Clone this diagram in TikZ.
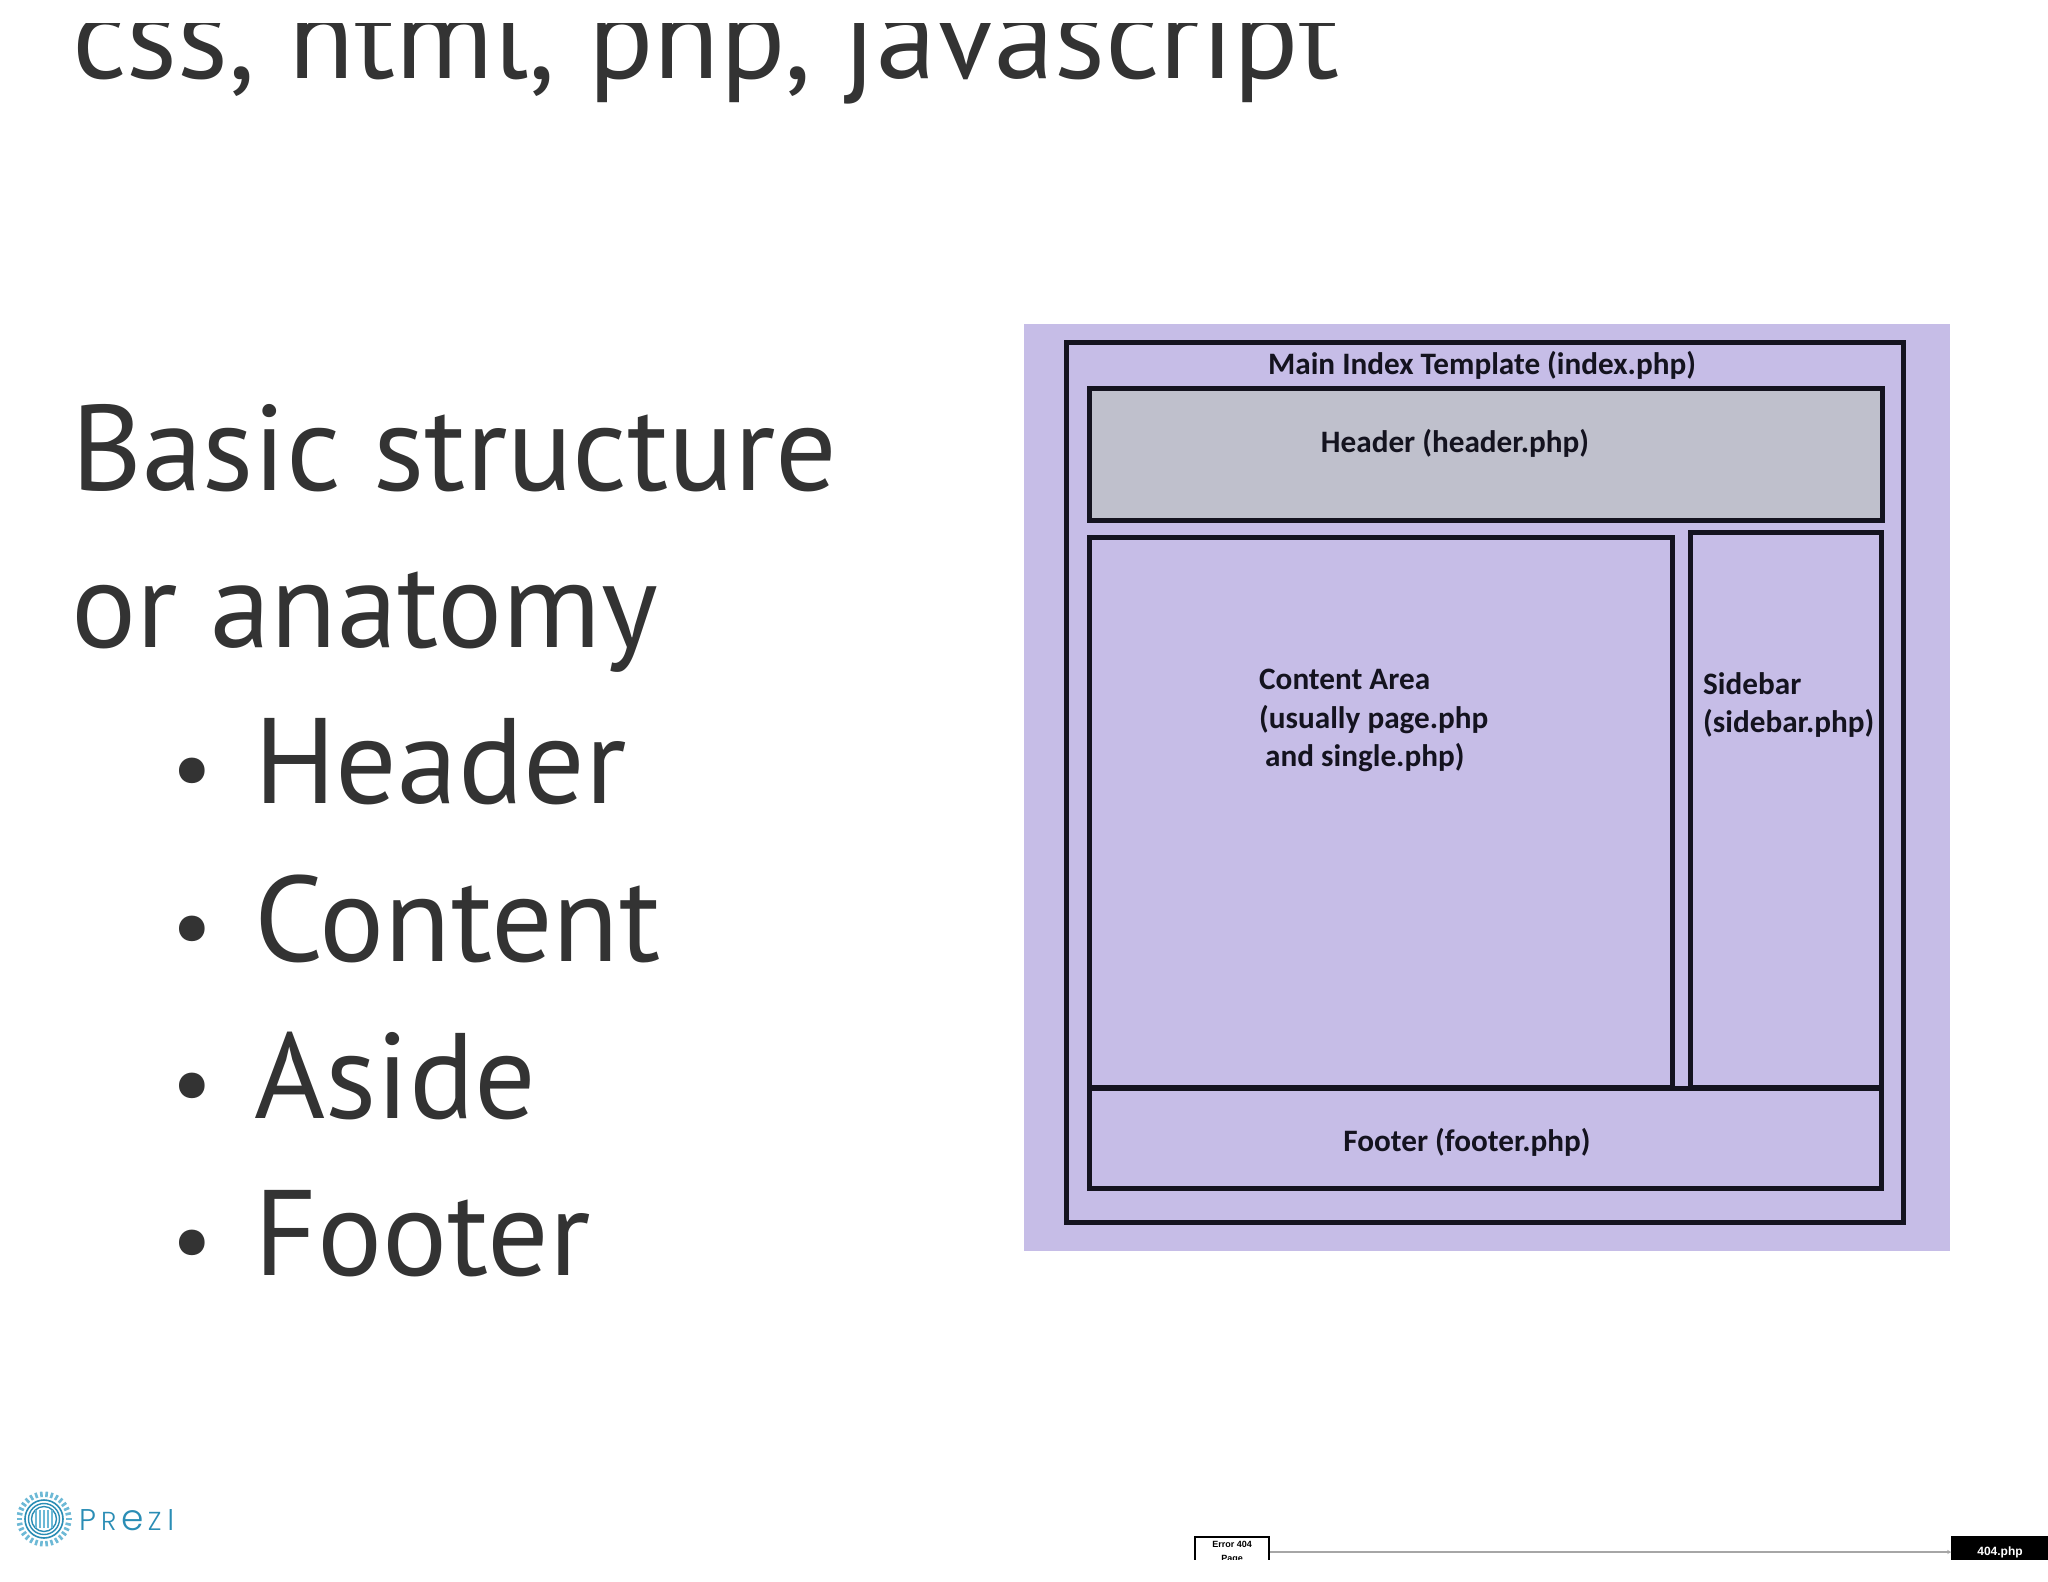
\documentclass[tikz,border=0pt]{standalone}
\usepackage{fontspec}
\usetikzlibrary{arrows.meta}
\setmainfont{PT Sans}
\newfontfamily\diagfont{Carlito}
\newfontfamily\arialfont{Liberation Sans}
\newfontfamily\logofont{Poppins Light}
\definecolor{slidetext}{HTML}{333333}
\definecolor{lilac}{HTML}{C6BDE7}
\definecolor{headgray}{HTML}{BFC0CC}
\definecolor{inkdark}{HTML}{14131F}
\definecolor{prezi}{HTML}{2A8DB5}
\definecolor{prezilight}{HTML}{6DB9D6}
\tikzset{
  slide/.style={anchor=base west,inner sep=0pt,text=slidetext,font=\fontsize{121.6}{121.6}\selectfont},
  tpl/.style={draw=inkdark,line width=5pt,anchor=north west,inner sep=0pt},
  lbl/.style={inner sep=0pt,text=inkdark,font=\diagfont\bfseries\fontsize{31.2}{38.5}\selectfont},
  flow/.style={draw,line width=1.5pt,inner sep=0pt,minimum height=30pt,font=\arialfont\bfseries\fontsize{9}{14}\selectfont,align=center},
}
\begin{document}
\begin{tikzpicture}[x=1pt,y=-1pt]
\useasboundingbox (0,0) rectangle (2048,1582);
\fill[white] (0,0) rectangle (2048,1582);
\begin{scope}
\clip (0,23) rectangle (2048,1582);
\node[slide,font=\fontsize{121}{121}\selectfont] (top) at (72,78) {css, html, php, javascript};
\end{scope}
\node[slide] (t1) at (71,490) {Basic structure};
\node[slide] (t2) at (71,647) {or anatomy};
\foreach \n/\y/\t in {a/803/Header,b/961/Content,c/1118/Aside,d/1275/Footer}{
  \node[slide,font=\fontsize{92}{92}\selectfont] (bul\n) at (171,\y-4) {•};
  \node[slide] (item\n) at (254,\y) {\t};
}
\fill[lilac] (1024,324) rectangle (1950,1251);
\node[tpl,minimum width=837pt,minimum height=880pt] (outer) at (1064,340) {};
\node[tpl,fill=headgray,minimum width=793pt,minimum height=132pt] (header) at (1087,386) {};
\node[tpl,minimum width=583pt,minimum height=550pt] (content) at (1087,535) {};
\node[tpl,minimum width=191pt,minimum height=555pt] (sidebar) at (1688,530) {};
\node[tpl,minimum width=792pt,minimum height=100pt] (footer) at (1087,1086) {};
\node[lbl,anchor=base] (lmain) at (1482,374) {Main Index Template (index.php)};
\node[lbl,anchor=base] (lhead) at (1455,452) {Header (header.php)};
\node[lbl,anchor=north west,align=left] (lcont) at (1259,669) {Content Area\\(usually page.php\\\hspace*{6pt}and single.php)};
\node[lbl,anchor=north west,align=left] (lside) at (1703,672) {Sidebar\\(sidebar.php)};
\node[lbl,anchor=base] (lfoot) at (1467,1151) {Footer (footer.php)};
% logo
\foreach \a in {0,12,...,348}
  \draw[prezilight,line width=2.6pt] (44,1519) ++(\a:22pt) -- ++(\a:5.5pt);
\draw[prezi,line width=1.6pt] (44,1519) circle[radius=19pt];
\draw[prezi,line width=1.4pt] (44,1519) circle[radius=15.5pt];
\draw[prezi,line width=1.4pt] (44,1519) circle[radius=12.5pt];
\foreach \d in {-8,-4,0,4,8}
  \draw[prezilight,line width=1.3pt] (44+\d,1510) -- (44+\d,1528);
\node[anchor=base west,inner sep=0pt,text=prezi,font=\logofont\fontsize{30}{30}\selectfont] (logo) at (79,1530) {P\kern5pt{\fontsize{26}{26}\selectfont R}\kern5pt{\fontsize{36}{36}\selectfont e}\kern4pt{\fontsize{26}{26}\selectfont Z}\kern6pt{\fontsize{30}{30}\selectfont I}};
% bottom flow
\begin{scope}
\clip (0,1500) rectangle (2048,1559);
\node[flow,fill=white,minimum width=74pt] (err) at (1232,1552) {Error 404\\Page};
\node[flow,fill=black,text=white,minimum width=96pt,font=\arialfont\bfseries\fontsize{12}{12}\selectfont] (p404) at (2000,1552) {404.php};
\end{scope}
\draw[-{Stealth[length=4pt,width=4pt]},draw=gray!70,line width=1.3pt] (err.east) -- (p404.west);
\end{tikzpicture}
\end{document}
